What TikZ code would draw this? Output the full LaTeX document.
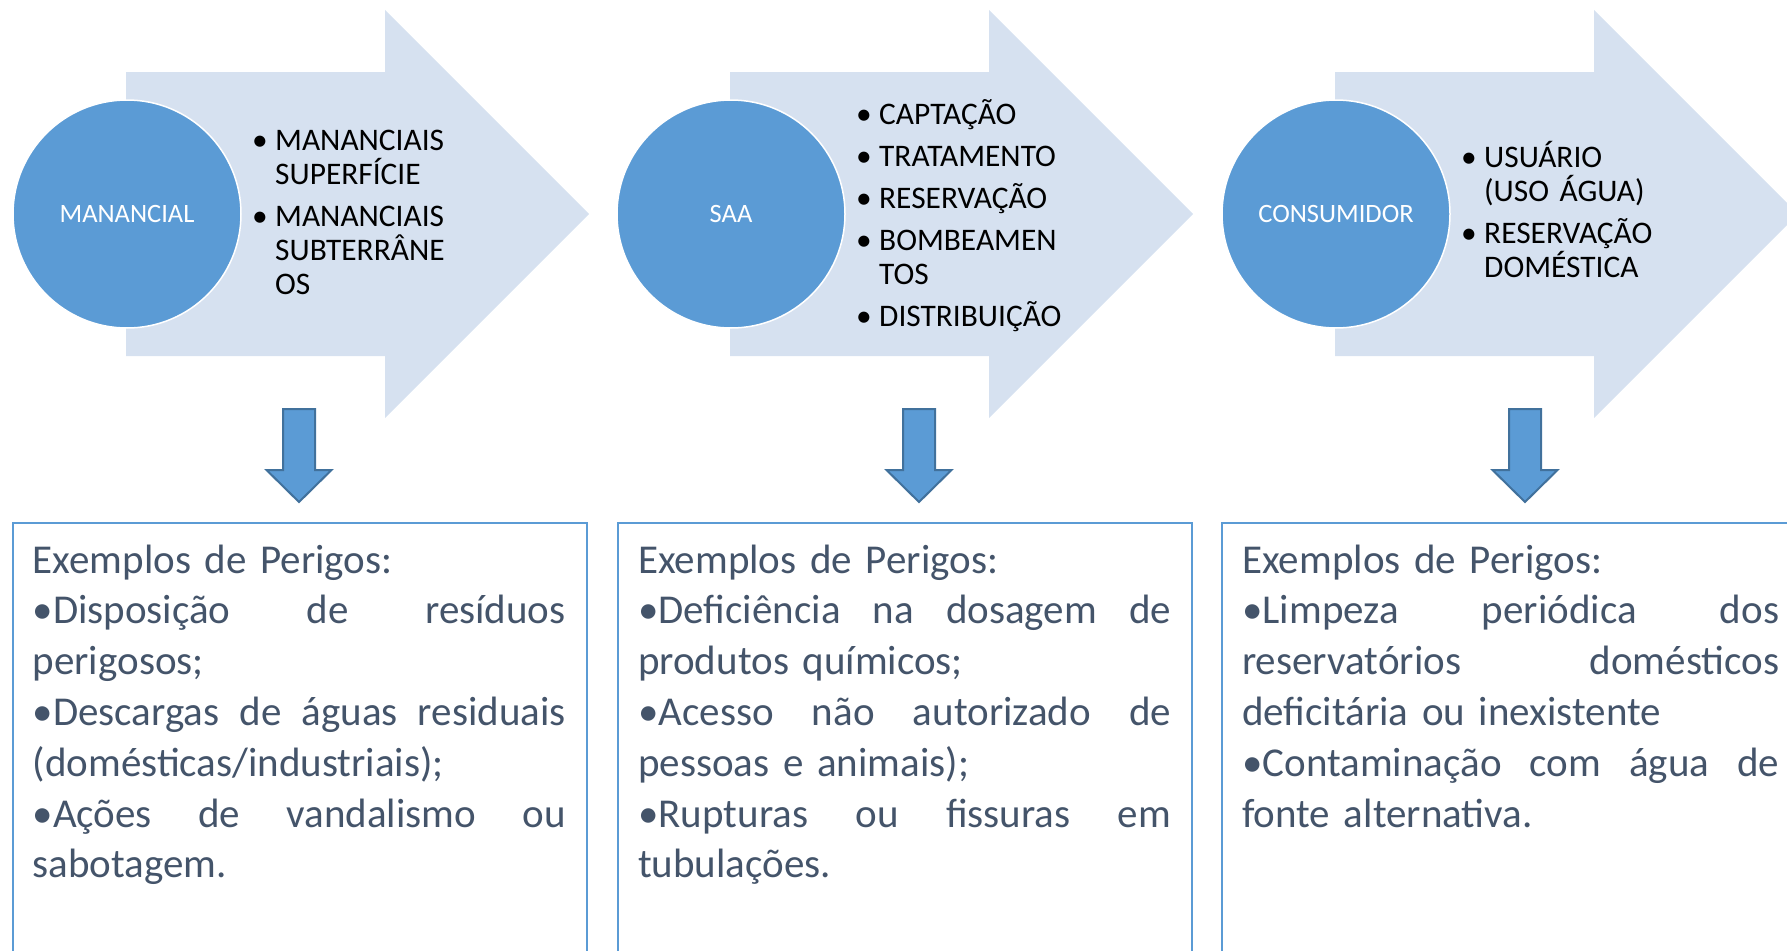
\documentclass[tikz,border=0pt]{standalone}
\usepackage{fontspec}
\setmainfont{Carlito}

\definecolor{arrowfill}{RGB}{214,225,240}
\definecolor{stagefill}{RGB}{91,155,213}
\definecolor{downline}{RGB}{65,113,156}
\definecolor{perigotext}{RGB}{68,84,106}

\newcommand{\stagebullet}{\makebox[23pt][l]{•}}
\newcommand{\stagegap}{\hspace*{23pt}}
\newcommand{\fullline}[2][533pt]{\leavevmode\hbox to #1{#2}}

\begin{document}
\begin{tikzpicture}[x=1pt, y=-1pt,
  stage/.style={circle, fill=stagefill, draw=white, line width=1.5pt, minimum size=228pt,
    inner sep=0pt, text=white, font=\fontsize{26.5}{30}\selectfont},
  stagelist/.style={anchor=base west, text width=270pt, align=left, inner sep=0pt,
    font=\fontsize{31.4}{34}\selectfont},
  bigarrow/.style={fill=arrowfill},
  downarrow/.style={fill=stagefill, draw=downline, line width=2pt},
  perigobox/.style={draw=stagefill, line width=1.5pt, minimum width=574pt, minimum height=500pt,
    anchor=north west, inner sep=0pt},
  perigolist/.style={anchor=base west, text width=540pt, align=left, inner sep=0pt,
    text=perigotext, font=\fontsize{41}{50.8}\selectfont}]

\useasboundingbox (0,0) rectangle (1787,950);
\clip (0,0) rectangle (1787,950);

% -------- big arrows -----------
\path[bigarrow] (126,72) -- (385,72) -- (385,10) -- (589,214) -- (385,418) -- (385,356) -- (126,356) -- cycle;
\path[bigarrow] (730,72) -- (989,72) -- (989,10) -- (1193,214) -- (989,418) -- (989,356) -- (730,356) -- cycle;
\path[bigarrow] (1335,72) -- (1594,72) -- (1594,10) -- (1798,214) -- (1594,418) -- (1594,356) -- (1335,356) -- cycle;

\node[stage] (manancial) at (127,214) {MANANCIAL};
\node[stage] (saa) at (731,214) {SAA};
\node[stage] (consumidor) at (1336,214) {CONSUMIDOR};

\node[stagelist] (listA) at (252,150) {\stagebullet MANANCIAIS\\
  \stagegap SUPERFÍCIE\\[8pt]
  \stagebullet MANANCIAIS\\
  \stagegap SUBTERRÂNE\\
  \stagegap OS};
\node[stagelist] (listB) at (856,124) {\stagebullet CAPTAÇÃO\\[8pt]
  \stagebullet TRATAMENTO\\[8pt]
  \stagebullet RESERVAÇÃO\\[8pt]
  \stagebullet BOMBEAMEN\\
  \stagegap TOS\\[8pt]
  \stagebullet DISTRIBUIÇÃO};
\node[stagelist] (listC) at (1461,167) {\stagebullet USUÁRIO\\
  \stagegap (USO ÁGUA)\\[8pt]
  \stagebullet RESERVAÇÃO\\
  \stagegap DOMÉSTICA};

% -------- down arrows -----------
\draw[downarrow] (283,409) -- (315,409) -- (315,470) -- (331.5,470) -- (299,502) -- (266.5,470) -- (283,470) -- cycle;
\draw[downarrow] (903,409) -- (935,409) -- (935,470) -- (951.5,470) -- (919,502) -- (886.5,470) -- (903,470) -- cycle;
\draw[downarrow] (1509,409) -- (1541,409) -- (1541,470) -- (1557.5,470) -- (1525,502) -- (1492.5,470) -- (1509,470) -- cycle;

% -------- hazard boxes -----------
\node[perigobox] (boxA) at (12,522) {};
\node[perigobox] (boxB) at (617,522) {};
\node[perigobox] (boxC) at (1221,522) {};

\node[perigolist] (perigosA) at ([xshift=20.5pt,yshift=-51pt]boxA.north west) {Exemplos de Perigos:\\
  \fullline{•Disposição\hfill de\hfill resíduos}\\
  perigosos;\\
  \fullline{•Descargas\hfill de\hfill águas\hfill residuais}\\
  (domésticas/industriais);\\
  \fullline{•Ações\hfill de\hfill vandalismo\hfill ou}\\
  sabotagem.};
\node[perigolist] (perigosB) at ([xshift=21pt,yshift=-51pt]boxB.north west) {Exemplos de Perigos:\\
  \fullline{•Deficiência\hfill na\hfill dosagem\hfill de}\\
  produtos químicos;\\
  \fullline{•Acesso\hfill não\hfill autorizado\hfill de}\\
  pessoas e animais);\\
  \fullline{•Rupturas\hfill ou\hfill fissuras\hfill em}\\
  tubulações.};
\node[perigolist] (perigosC) at ([xshift=21pt,yshift=-51pt]boxC.north west) {Exemplos de Perigos:\\
  \fullline[537pt]{•Limpeza\hfill periódica\hfill dos}\\
  \fullline[537pt]{reservatórios\hfill domésticos}\\
  deficitária ou inexistente\\
  \fullline[537pt]{•Contaminação\hfill com\hfill água\hfill de}\\
  fonte alternativa.};
\end{tikzpicture}
\end{document}
